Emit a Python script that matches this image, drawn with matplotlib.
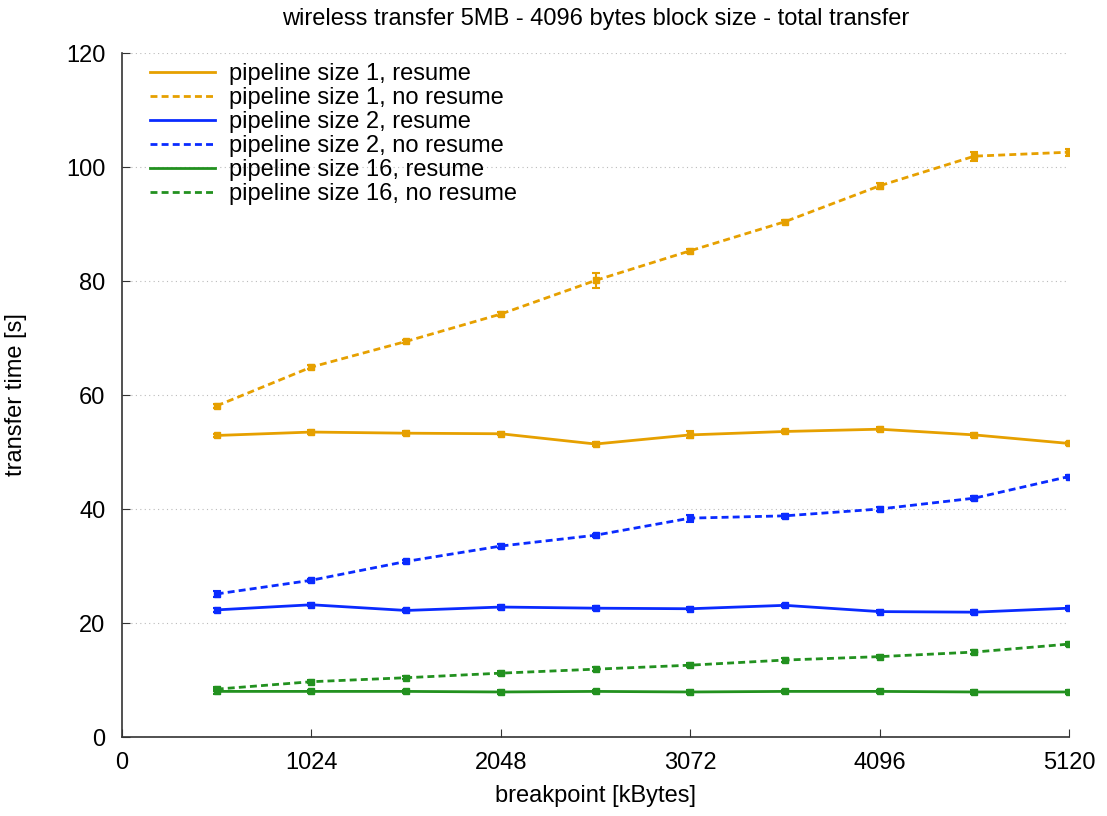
import numpy as np
import matplotlib
matplotlib.use("Agg")
import matplotlib.pyplot as plt

plt.rcParams["font.family"] = ["Liberation Sans", "DejaVu Sans"]

breakpoints = [512, 1024, 1536, 2048, 2560, 3072, 3584, 4096, 4608, 5120]

p1_resume = [52.9, 53.5, 53.3, 53.2, 51.4, 53.0, 53.6, 54.0, 53.0, 51.5]
p1_resume_err = [0.3, 0.3, 0.3, 0.3, 0.3, 0.6, 0.3, 0.4, 0.3, 0.3]
p1_noresume = [58.1, 64.9, 69.4, 74.2, 80.1, 85.3, 90.4, 96.7, 101.9, 102.6]
p1_noresume_err = [0.3, 0.3, 0.3, 0.3, 1.3, 0.3, 0.3, 0.5, 0.8, 0.6]

p2_resume = [22.3, 23.2, 22.2, 22.8, 22.6, 22.5, 23.1, 22.0, 21.9, 22.6]
p2_resume_err = [0.3, 0.3, 0.3, 0.3, 0.3, 0.3, 0.3, 0.3, 0.3, 0.3]
p2_noresume = [25.1, 27.5, 30.8, 33.5, 35.4, 38.4, 38.8, 40.0, 41.9, 45.7]
p2_noresume_err = [0.5, 0.3, 0.3, 0.3, 0.3, 0.6, 0.3, 0.3, 0.3, 0.3]

p16_resume = [8.0, 8.0, 8.0, 7.9, 8.0, 7.9, 8.0, 8.0, 7.9, 7.9]
p16_resume_err = [0.4, 0.3, 0.3, 0.3, 0.3, 0.3, 0.3, 0.3, 0.3, 0.3]
p16_noresume = [8.4, 9.7, 10.4, 11.2, 11.9, 12.6, 13.5, 14.1, 14.9, 16.3]
p16_noresume_err = [0.4, 0.3, 0.3, 0.3, 0.3, 0.3, 0.3, 0.3, 0.3, 0.3]

labels = [
    "pipeline size 1, resume",
    "pipeline size 1, no resume",
    "pipeline size 2, resume",
    "pipeline size 2, no resume",
    "pipeline size 16, resume",
    "pipeline size 16, no resume",
]

ORANGE = "#e6a000"
BLUE = "#0a2bff"
GREEN = "#22911f"
DASH = (0, (2.5, 1.5))

series = [
    (p1_resume, p1_resume_err, ORANGE, "-"),
    (p1_noresume, p1_noresume_err, ORANGE, DASH),
    (p2_resume, p2_resume_err, BLUE, "-"),
    (p2_noresume, p2_noresume_err, BLUE, DASH),
    (p16_resume, p16_resume_err, GREEN, "-"),
    (p16_noresume, p16_noresume_err, GREEN, DASH),
]

fig = plt.figure(figsize=(11.07, 8.16), dpi=100)
ax = fig.add_axes([122 / 1107, 79 / 816, 947 / 1107, 684 / 816])

for vals, err, color, ls in series:
    ax.errorbar(breakpoints, vals, yerr=err, color=color, linestyle="none",
                elinewidth=1.5, capsize=3, capthick=1.5, zorder=3)
    ax.plot(breakpoints, vals, color=color, linestyle=ls, linewidth=2,
            marker="s", markersize=4, zorder=4)

ax.set_xlim(0, 5120)
ax.set_ylim(0, 120)
ax.set_xticks([0, 1024, 2048, 3072, 4096, 5120])
ax.set_yticks(np.arange(0, 121, 20))
ax.tick_params(direction="in", length=6, labelsize=17, colors="#333333",
               labelcolor="black")
ax.tick_params(axis="y", pad=12)
ax.tick_params(axis="x", pad=11)
for side in ["top", "right"]:
    ax.spines[side].set_visible(False)
for side in ["left", "bottom"]:
    ax.spines[side].set_color("#333333")
    ax.spines[side].set_linewidth(1.2)

ax.grid(axis="y", color="#bbbbbb", linestyle=(0, (1, 3)), linewidth=0.8)
ax.set_axisbelow(True)

ax.set_xlabel("breakpoint [kBytes]", fontsize=17, labelpad=8)
ax.set_ylabel("transfer time [s]", fontsize=17, labelpad=28)
ax.set_title("wireless transfer 5MB - 4096 bytes block size - total transfer",
             fontsize=17, pad=20)

# legend shows only the line styles, no markers
leg_handles = []
for vals, err, color, ls in series:
    (lh,) = ax.plot([], [], color=color, linestyle=ls, linewidth=2)
    leg_handles.append(lh)
ax.legend(leg_handles, labels, loc="upper left", frameon=False, fontsize=17,
          handlelength=2.75, handletextpad=0.6, labelspacing=0.09,
          borderpad=0, borderaxespad=0, bbox_to_anchor=(0.0296, 0.9856))

fig.savefig("out.png", dpi=100)
